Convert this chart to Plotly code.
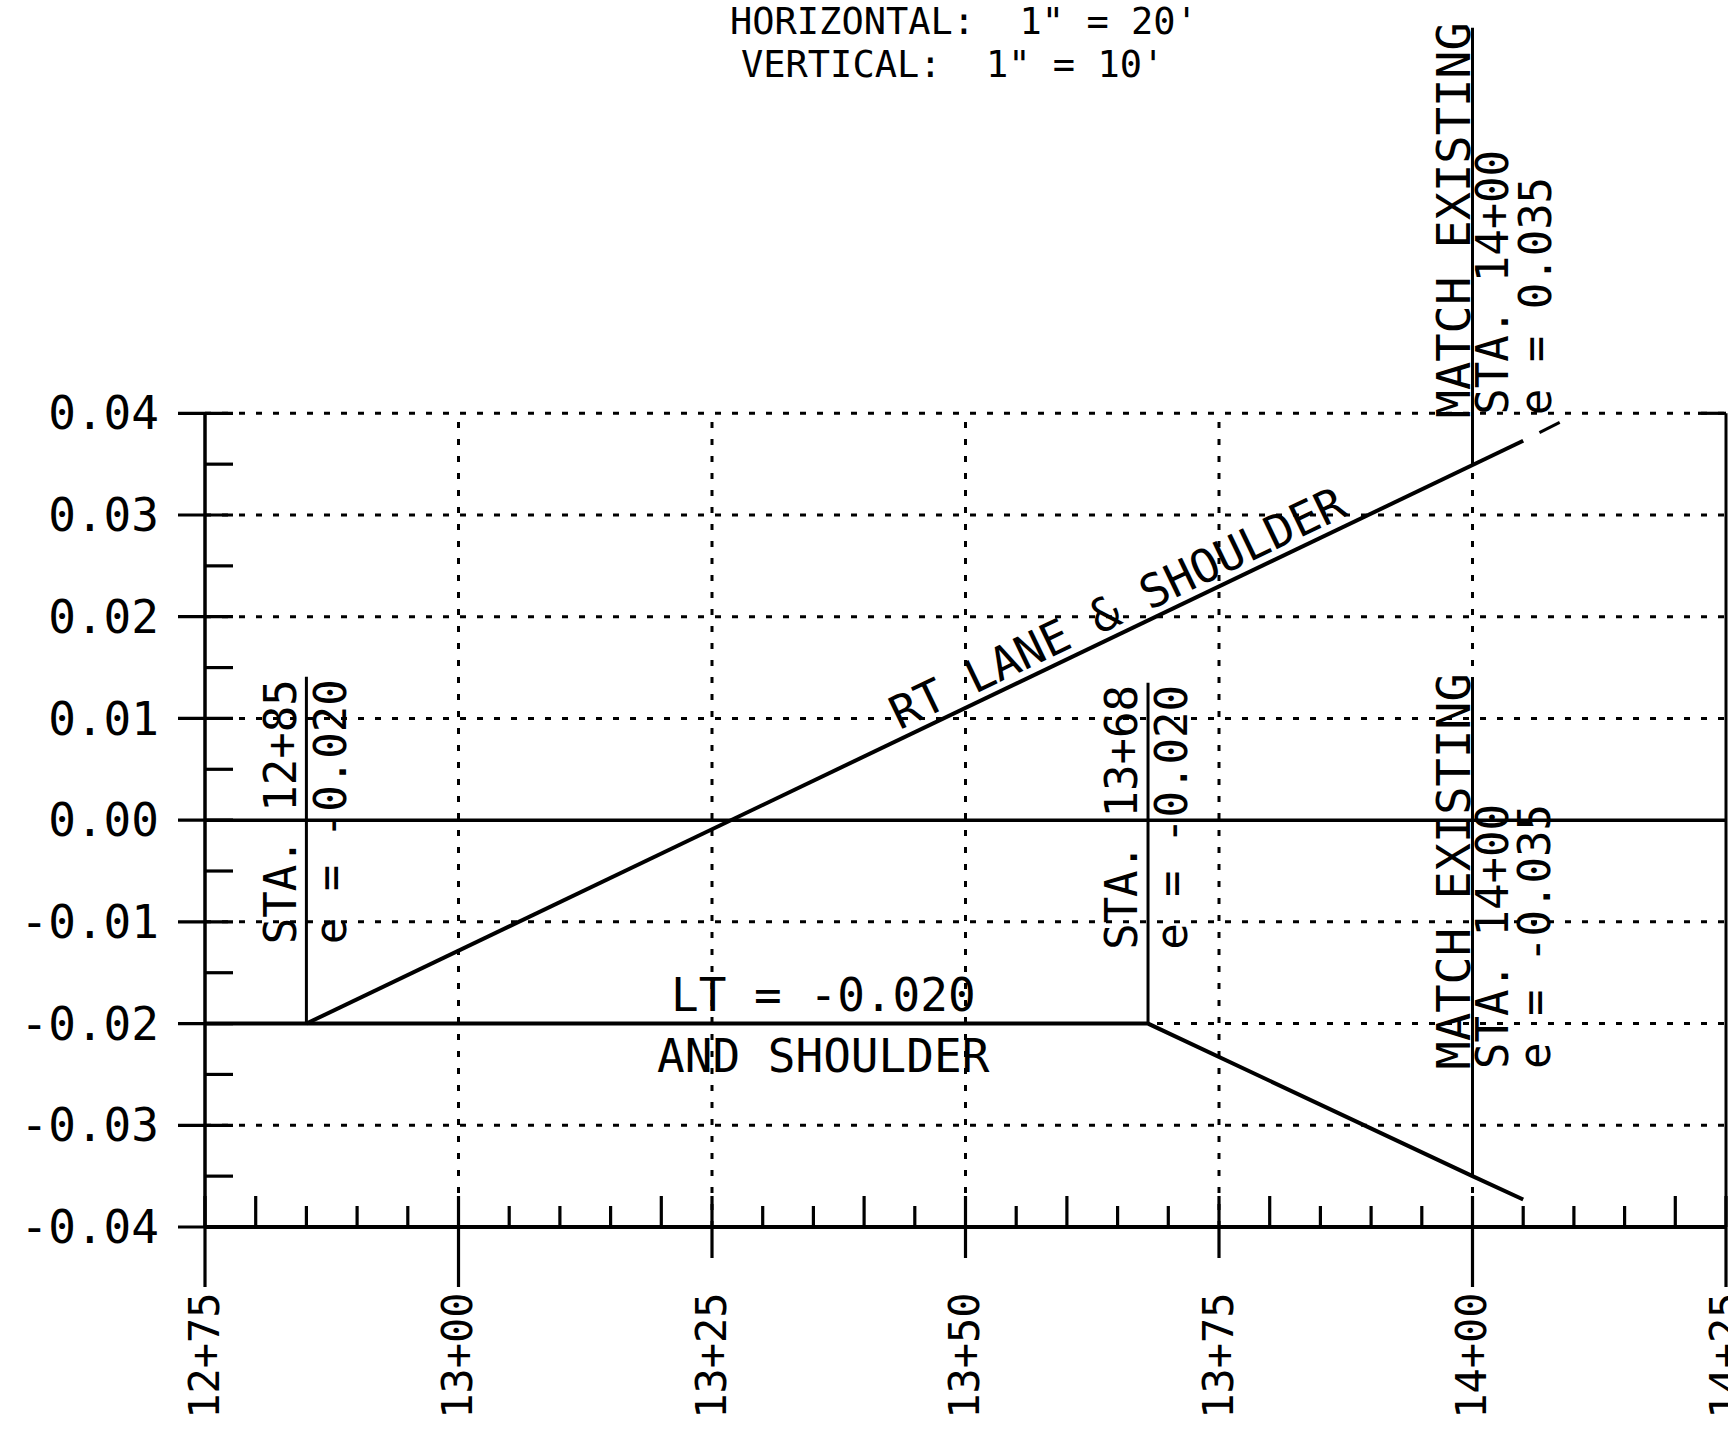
import math
import numpy as np
import plotly.graph_objects as go

# ---------------- data ----------------
x_major = [1275, 1300, 1325, 1350, 1375, 1400, 1425]
x_labels = ["12+75", "13+00", "13+25", "13+50", "13+75", "14+00", "14+25"]
x_minor = [1280, 1285, 1290, 1295, 1305, 1310, 1315, 1320, 1330, 1335, 1340, 1345,
           1355, 1360, 1365, 1370, 1380, 1385, 1390, 1395, 1405, 1410, 1415, 1420]
y_major = [-0.04, -0.03, -0.02, -0.01, 0.00, 0.01, 0.02, 0.03, 0.04]
y_labels = ["-0.04", "-0.03", "-0.02", "-0.01", "0.00", "0.01", "0.02", "0.03", "0.04"]
y_minor = [-0.035, -0.025, -0.015, -0.005, 0.005, 0.015, 0.025, 0.035]

# right lane & shoulder superelevation
rt_station = [1285, 1400, 1405]
rt_e = [-0.020, 0.035, 0.0373]
rt_exist_station = [1406.6, 1408.6]
rt_exist_e = [0.0381, 0.0391]
# left lane & shoulder superelevation
lt_station = [1275, 1368, 1400, 1405]
lt_e = [-0.020, -0.020, -0.035, -0.0373]

# control points with leader lines
ctrl_station = [1285, 1368, 1400, 1400]
ctrl_e = [-0.020, -0.020, -0.035, 0.035]
leader_top = [0.0141, 0.0135, 0.0135, 0.0779]
match_existing = [False, False, True, True]

# scale notes
scale_notes = ["HORIZONTAL:  1\" = 20'", "VERTICAL:  1\" = 10'"]

# ---------------- layout geometry (pixels) ----------------
W, H = 1728, 1430
PX_L, PX_R = 205.0, 1726.0      # pixel x of first / last station tick
PY_T, PY_B = 413.3, 1227.0      # pixel y of top / bottom e tick
kx = (PX_R - PX_L) / (x_major[-1] - x_major[0])
ky = (PY_B - PY_T) / (y_major[-1] - y_major[0])
x_range = [x_major[0] - PX_L / kx, x_major[-1] + (W - PX_R) / kx]
y_range = [y_major[0] - (H - PY_B) / ky, y_major[-1] + PY_T / ky]

FONT = "DejaVu Sans Mono"
BLK = "black"
DOT = "6px,11px"


def fmt_sta(s):
    s = int(round(s))
    return f"{s // 100}+{s % 100:02d}"


shapes = []


def seg(x0, y0, x1, y1, width=3, dash="solid"):
    shapes.append(dict(type="line", xref="x", yref="y", x0=x0, y0=y0, x1=x1, y1=y1,
                       line=dict(color=BLK, width=width, dash=dash), layer="above"))


def htick(xanchor, y, p0, p1, width=3.2):
    shapes.append(dict(type="line", xref="x", yref="y", xsizemode="pixel", xanchor=xanchor,
                       x0=p0, x1=p1, y0=y, y1=y, line=dict(color=BLK, width=width), layer="above"))


def vtick(x, yanchor, p0, p1, width=3.2):
    shapes.append(dict(type="line", xref="x", yref="y", ysizemode="pixel", yanchor=yanchor,
                       y0=p0, y1=p1, x0=x, x1=x, line=dict(color=BLK, width=width), layer="above"))


# dotted grid
for v in y_major:
    if v != 0 and v != y_major[0]:
        seg(x_major[0], v, x_major[-1], v, width=3, dash=DOT)
for s in x_major[1:-1]:
    seg(s, y_major[0], s, y_major[-1], width=3, dash=DOT)

# frame lines
seg(x_major[0], y_major[0], x_major[-1], y_major[0], width=4)     # bottom axis
seg(x_major[0], 0.0, x_major[-1], 0.0, width=3.5)                 # zero line
seg(x_major[0], y_major[0], x_major[0], y_major[-1], width=3.5)   # left axis
seg(x_major[-1], y_major[0], x_major[-1], y_major[-1], width=3)   # right axis

# y ticks
for v in y_major:
    htick(x_major[0], v, -27, 28)
for v in y_minor:
    htick(x_major[0], v, 0, 28)
htick(x_major[-1], y_major[-1], -28, 0)

# x ticks
for s in x_major:
    down = 60 if (s % 100 == 0 or s in (x_major[0], x_major[-1])) else 31
    vtick(s, y_major[0], -down, 31)
for s in x_minor:
    vtick(s, y_major[0], 0, 31 if s % 20 == 0 else 21)

fig = go.Figure()

# leader lines
for s, e0, e1 in zip(ctrl_station, ctrl_e, leader_top):
    fig.add_trace(go.Scatter(x=[s, s], y=[e0, e1], mode="lines",
                             line=dict(color=BLK, width=3), hoverinfo="skip"))

# superelevation lines
fig.add_trace(go.Scatter(x=lt_station, y=lt_e, mode="lines",
                         line=dict(color=BLK, width=4), hoverinfo="skip"))
fig.add_trace(go.Scatter(x=rt_station, y=rt_e, mode="lines",
                         line=dict(color=BLK, width=4), hoverinfo="skip"))
fig.add_trace(go.Scatter(x=rt_exist_station, y=rt_exist_e, mode="lines",
                         line=dict(color=BLK, width=3), hoverinfo="skip"))

ann = []


def label(text, x, y, xanchor, yanchor, angle=-90, size=44, xshift=0, yshift=0,
          xref="x", yref="y"):
    ann.append(dict(text=text, x=x, y=y, xref=xref, yref=yref, xanchor=xanchor,
                    yanchor=yanchor, textangle=angle, showarrow=False,
                    xshift=xshift, yshift=yshift,
                    font=dict(family=FONT, size=size, color=BLK)))


# control point labels
for s, e, top, me in zip(ctrl_station, ctrl_e, leader_top, match_existing):
    sta_txt = f"STA. {fmt_sta(s)}"
    e_txt = f"e = {e:.3f}"
    if not me:
        label(sta_txt, s, top, "right", "top", xshift=1)
        label(e_txt, s, top, "left", "top", xshift=-4)
    else:
        upper = e > 0
        base = y_major[-1] if upper else -0.0247
        label("MATCH EXISTING", s, base, "right", "bottom", size=47, xshift=10,
              yshift=-7 if upper else 0)
        label(sta_txt, s, base, "left", "bottom", xshift=-7, yshift=-4 if upper else 0)
        label(e_txt, s, base, "left", "bottom", xshift=35, yshift=-4 if upper else 0)

# RT label along line
ang = math.degrees(math.atan2((rt_e[1] - rt_e[0]) * ky, (rt_station[1] - rt_station[0]) * kx))
s_lab = 1366.0
e_lab = float(np.interp(s_lab, rt_station, rt_e))
d = 24
label("RT LANE & SHOULDER", s_lab, e_lab, "center", "middle", angle=-ang, size=46,
      xshift=-d * math.sin(math.radians(ang)), yshift=d * math.cos(math.radians(ang)))

# LT labels
label(f"LT = {lt_e[0]:.3f}", 1336, lt_e[0], "center", "bottom", angle=0, size=46, yshift=0)
label("AND SHOULDER", 1336, lt_e[0], "center", "top", angle=0, size=46, yshift=-3)

# scale notes
label(scale_notes[0], 964 / W, 1 - 21.5 / H, "center", "middle", angle=0,
      size=37, xref="paper", yref="paper")
label(scale_notes[1], 952 / W, 1 - 64.5 / H, "center", "middle", angle=0,
      size=37, xref="paper", yref="paper")

fig.update_layout(
    template="none",
    width=W, height=H, autosize=False,
    margin=dict(l=0, r=0, t=0, b=0, pad=0),
    paper_bgcolor="white", plot_bgcolor="white",
    showlegend=False,
    shapes=shapes,
    annotations=ann,
    xaxis=dict(domain=[0, 1], range=x_range, anchor="free", position=(H - PY_B) / H,
               tickvals=x_major, ticktext=x_labels, tickangle=-90,
               ticks="", ticklabelstandoff=56, ticklabeloverflow="allow",
               showgrid=False, zeroline=False,
               showline=False, automargin=False, fixedrange=True,
               tickfont=dict(family=FONT, size=42, color=BLK)),
    yaxis=dict(domain=[0, 1], range=y_range, anchor="free", position=PX_L / W,
               tickvals=y_major, ticktext=y_labels,
               ticks="", ticklabelstandoff=46, showgrid=False, zeroline=False,
               showline=False, automargin=False, fixedrange=True,
               tickfont=dict(family=FONT, size=46, color=BLK)),
)

fig.write_html("out.html", config={"displayModeBar": False},
               post_script="document.body.style.margin='0px';document.body.style.overflow='hidden';")
